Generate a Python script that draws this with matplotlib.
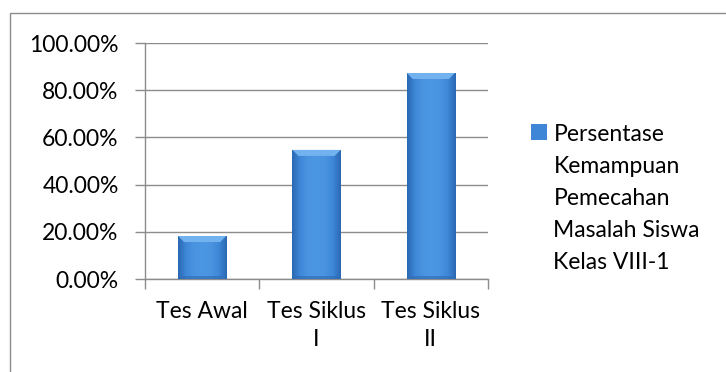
import numpy as np
import matplotlib.pyplot as plt
from matplotlib.colors import LinearSegmentedColormap
from matplotlib.patches import Rectangle, Polygon

categories = ['Tes Awal', 'Tes Siklus\nI', 'Tes Siklus\nII']
persentase = [18.2, 54.7, 87.3]
yticks = [0, 20, 40, 60, 80, 100]
legend_label = 'Persentase\nKemampuan\nPemecahan\nMasalah Siswa\nKelas VIII-1'

plt.rcParams['font.family'] = ['Lato', 'DejaVu Sans']
plt.rcParams['font.size'] = 16.5

W, H = 726, 372
fig = plt.figure(figsize=(W / 100, H / 100), dpi=100)

# chart area border (runs off the right and bottom edges)
fig.patches.append(Rectangle((10 / W, -0.1), 1.0, 1.1 - 13 / H,
                             transform=fig.transFigure, fill=False,
                             edgecolor='#8c8c8c', lw=1.0))

ax = fig.add_axes([145 / W, 93 / H, 343 / W, 236 / H])
grey = '#8c8c8c'

x = np.arange(len(categories))
bars = ax.bar(x, persentase, width=0.42, color='#3f86d6', zorder=3,
              label=legend_label)

xlim, ylim = (-0.5, 2.5), (0, 100)
ax.set_xlim(xlim)
ax.set_ylim(ylim)

# bevelled look: horizontal shading, light top bevel, dark bottom band
px_x = (xlim[1] - xlim[0]) / ax.bbox.width
px_y = (ylim[1] - ylim[0]) / ax.bbox.height
cmap = LinearSegmentedColormap.from_list(
    'bevel', ['#2a68b3', '#3f88d8', '#4a94e0', '#4c97e3', '#4a94e0', '#3f88d8', '#2a68b3'])
grad = np.linspace(0, 1, 128).reshape(1, -1)
for b in bars:
    x0, w, h = b.get_x(), b.get_width(), b.get_height()
    im = ax.imshow(grad, extent=[x0, x0 + w, 0, h], aspect='auto',
                   cmap=cmap, zorder=3.1, interpolation='bilinear')
    im.set_clip_path(b)
    dx, dy = 6 * px_x, 6 * px_y
    ax.add_patch(Polygon([(x0, h), (x0 + w, h), (x0 + w - dx, h - dy),
                          (x0 + dx, h - dy)], closed=True,
                         facecolor='#72b2ee', edgecolor='none', zorder=3.2))
    ax.add_patch(Rectangle((x0 + dx / 2, 0), w - dx, 3 * px_y,
                           facecolor='#2f6ab0', edgecolor='none', alpha=0.6,
                           zorder=3.2))
ax.set_xlim(xlim)
ax.set_ylim(ylim)

ax.set_yticks(yticks)
ax.set_yticklabels([f'{v:.2f}%' for v in yticks])
ax.yaxis.grid(True, color=grey, lw=1.0)
ax.set_axisbelow(True)

ax.set_xticks(x)
ax.set_xticklabels(categories, linespacing=1.4)
ax.set_xticks(np.arange(len(categories) + 1) - 0.5, minor=True)
ax.tick_params(axis='x', which='major', length=0, pad=16)
ax.tick_params(axis='x', which='minor', length=7, color=grey, width=1.0)
ax.tick_params(axis='y', length=7, color=grey, width=1.0, pad=12)

for side in ['top', 'right']:
    ax.spines[side].set_visible(False)
for side in ['left', 'bottom']:
    ax.spines[side].set_color(grey)
    ax.spines[side].set_linewidth(1.0)

leg = ax.legend(loc='upper left', bbox_to_anchor=(531 / W, 1 - 124 / H),
                bbox_transform=fig.transFigure, frameon=False,
                handlelength=0.68, handleheight=0.68, handletextpad=0.3,
                borderpad=0, borderaxespad=0)
for t in leg.get_texts():
    t.set_linespacing(1.65)
    t.set_multialignment('left')
for col in leg._legend_handle_box.get_children():
    for row in col.get_children():
        row.align = 'top'

plt.savefig('out.png', dpi=100)
